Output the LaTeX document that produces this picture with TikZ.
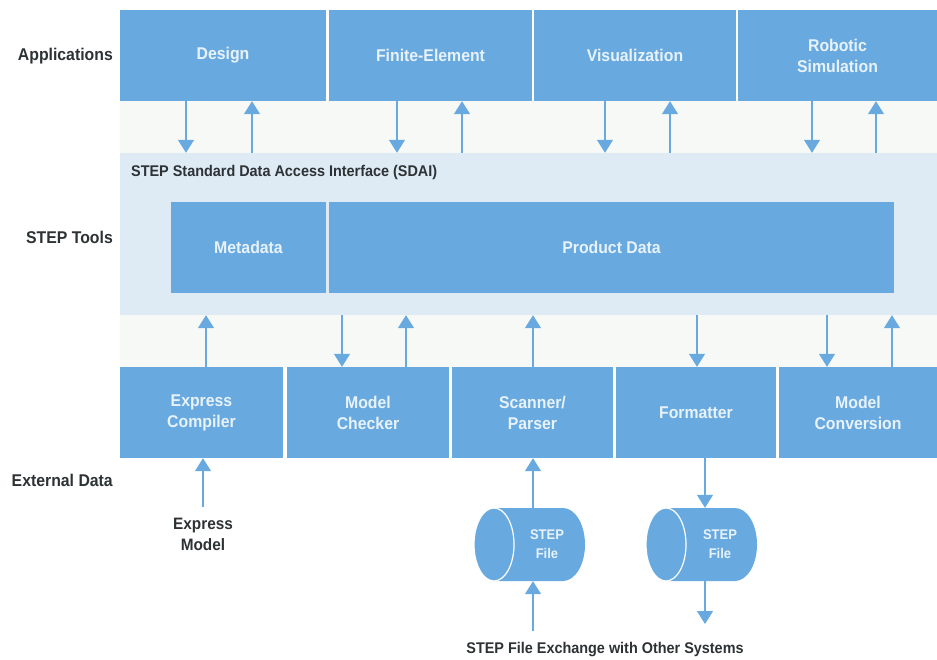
\documentclass[tikz,border=0pt]{standalone}
\usepackage{fontspec}
\setmainfont{Liberation Sans}[FakeStretch=0.93]
\usetikzlibrary{arrows.meta,calc}
\definecolor{boxblue}{RGB}{104,170,224}
\definecolor{panelblue}{RGB}{222,234,244}
\definecolor{faintbg}{RGB}{247,249,247}
\definecolor{boxtext}{RGB}{232,242,250}
\definecolor{labelgray}{RGB}{45,50,52}
\tikzset{
  box/.style={fill=boxblue, draw=none, text=boxtext, align=center, inner sep=0pt,
    font=\bfseries\fontsize{17}{21}\selectfont, minimum height=91pt},
  lab/.style={text=labelgray, inner sep=0pt, font=\bfseries\fontsize{17}{21}\selectfont},
  extlab/.style={text=labelgray, inner sep=0pt, align=center, font=\bfseries\fontsize{16.5}{21}\selectfont},
  cyltext/.style={text=boxtext, inner sep=0pt, align=center, font=\bfseries\fontsize{14}{19}\selectfont},
  arr/.style={draw=boxblue, line width=1.3pt, -{Triangle[width=16pt,length=13pt]}},
  cylshape/.style={inner sep=0pt, minimum width=111pt, minimum height=73pt}
}
\begin{document}
\begin{tikzpicture}[x=1pt,y=-1pt]
\useasboundingbox (0,0) rectangle (937,660);
\fill[white] (0,0) rectangle (937,660);
% faint background band
\fill[faintbg] (120,101) rectangle (937,367);
% SDAI panel
\node[fill=panelblue, inner sep=0pt, minimum width=817pt, minimum height=162pt] (sdai) at (528.5,234) {};
\node[lab, anchor=west, font=\bfseries\fontsize{15.5}{19}\selectfont] (sdailab) at (131,172) {STEP Standard Data Access Interface (SDAI)};

% applications
\node[box, minimum width=206pt] (design) at (223,55.5) {Design};
\node[box, minimum width=203pt] (fe) at (430.5,55.5) {Finite-Element};
\node[box, minimum width=202pt] (vis) at (635,55.5) {Visualization};
\node[box, minimum width=199pt] (rob) at (837.5,55.5) {Robotic\\Simulation};

% STEP tools
\node[box, minimum width=155pt] (meta) at (248.5,247.5) {Metadata};
\node[box, minimum width=565pt] (prod) at (611.5,247.5) {Product Data};

% external data boxes
\node[box, minimum width=163pt] (expc) at (201.5,412.5) {Express\\Compiler};
\node[box, minimum width=162pt] (mchk) at (368,412.5) {Model\\Checker};
\node[box, minimum width=161pt] (scan) at (532.5,412.5) {Scanner/\\Parser};
\node[box, minimum width=160pt] (fmt) at (696,412.5) {Formatter};
\node[box, minimum width=158pt] (mconv) at (858,412.5) {Model\\Conversion};

% row labels
\node[lab, anchor=east] (lapp) at (113,56) {Applications};
\node[lab, anchor=east] (ltools) at (113,237) {STEP Tools};
\node[lab, anchor=east] (lext) at (113,480) {External Data};

% arrows applications <-> SDAI
\draw[arr] ($(design.south)+(-37,0)$) -- ($(design.south |- sdai.north)+(-37,0)$);
\draw[arr] ($(design.south |- sdai.north)+(29,0)$) -- ($(design.south)+(29,0)$);
\draw[arr] ($(fe.south)+(-33.5,0)$) -- ($(fe.south |- sdai.north)+(-33.5,0)$);
\draw[arr] ($(fe.south |- sdai.north)+(31.5,0)$) -- ($(fe.south)+(31.5,0)$);
\draw[arr] ($(vis.south)+(-30,0)$) -- ($(vis.south |- sdai.north)+(-30,0)$);
\draw[arr] ($(vis.south |- sdai.north)+(35,0)$) -- ($(vis.south)+(35,0)$);
\draw[arr] ($(rob.south)+(-25.5,0)$) -- ($(rob.south |- sdai.north)+(-25.5,0)$);
\draw[arr] ($(rob.south |- sdai.north)+(38.5,0)$) -- ($(rob.south)+(38.5,0)$);

% arrows SDAI <-> tools
\draw[arr] ($(expc.north)+(4.5,0)$) -- ($(expc.north |- sdai.south)+(4.5,0)$);
\draw[arr] ($(mchk.north |- sdai.south)+(-26,0)$) -- ($(mchk.north)+(-26,0)$);
\draw[arr] ($(mchk.north)+(38,0)$) -- ($(mchk.north |- sdai.south)+(38,0)$);
\draw[arr] ($(scan.north)+(0.5,0)$) -- ($(scan.north |- sdai.south)+(0.5,0)$);
\draw[arr] ($(fmt.north |- sdai.south)+(1,0)$) -- ($(fmt.north)+(1,0)$);
\draw[arr] ($(mconv.north |- sdai.south)+(-31,0)$) -- ($(mconv.north)+(-31,0)$);
\draw[arr] ($(mconv.north)+(34,0)$) -- ($(mconv.north |- sdai.south)+(34,0)$);

% express model
\node[extlab] (exmod) at (203,534) {Express\\Model};
\draw[arr] ([yshift=11pt]exmod.north) -- (exmod.north |- expc.south);

% cylinders
\node[cylshape] (file1) at (530,544.5) {};
\fill[boxblue] (494,508) -- (563,508) arc (270:450:22 and 36.5) -- (494,581) arc (90:270:20 and 36.5) -- cycle;
\draw[white, line width=1.2pt] (494,544.5) ellipse (20 and 36.5);
\node[cyltext] (file1t) at (547,544.5) {STEP\\File};

\node[cylshape] (file2) at (702,544.5) {};
\fill[boxblue] (666,508) -- (735,508) arc (270:450:22 and 36.5) -- (666,581) arc (90:270:20 and 36.5) -- cycle;
\draw[white, line width=1.2pt] (666,544.5) ellipse (20 and 36.5);
\node[cyltext] (file2t) at (720,544.5) {STEP\\File};

% file arrows
\draw[arr] ($(file1.north)+(3,0)$) -- ($(file1.north |- scan.south)+(3,0)$);
\coordinate (src1) at (533,631);
\draw[arr] (src1) -- (src1 |- file1.south);
\draw[arr] ($(fmt.south)+(9,0)$) -- ($(fmt.south |- file2.north)+(9,0)$);
\coordinate (dst2) at (705,624);
\draw[arr] (dst2 |- file2.south) -- (dst2);

\node[lab, font=\bfseries\fontsize{15.5}{19}\selectfont] (exch) at (605,650) {STEP File Exchange with Other Systems};
\end{tikzpicture}
\end{document}
